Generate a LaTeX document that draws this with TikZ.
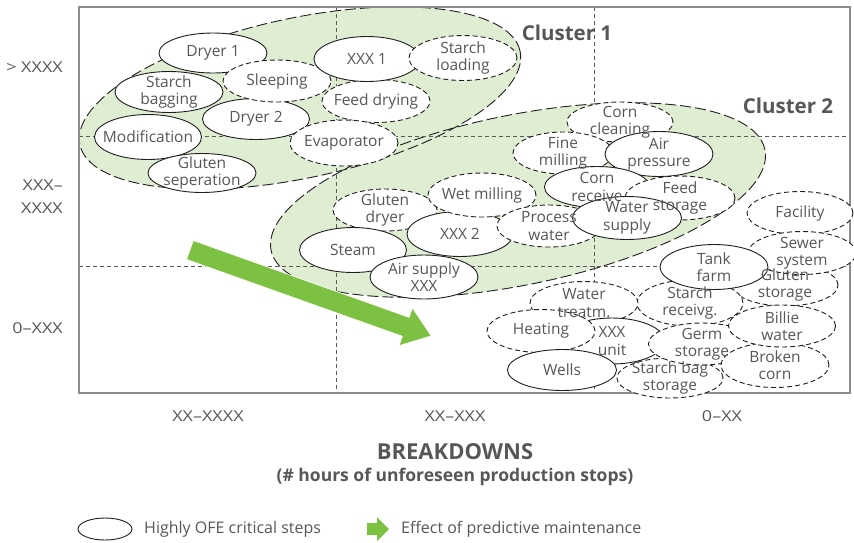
\documentclass[tikz,border=0pt]{standalone}
\usepackage{fontspec}
\setmainfont{Open Sans}
\newfontfamily\widefont{Open Sans}[FakeStretch=1.2]
\usetikzlibrary{shapes.geometric}

\definecolor{clusterfill}{HTML}{DFEDD2}
\definecolor{arrowgreen}{HTML}{7DC142}
\definecolor{textgray}{HTML}{575757}
\definecolor{framegray}{HTML}{8C8C8C}
\definecolor{gridgray}{HTML}{5A5A5A}

\tikzset{
  stepell/.style={ellipse, draw=black!88, line width=0.9pt, fill=white, inner sep=0pt},
  solidell/.style={stepell},
  dashell/.style={stepell, dash pattern=on 5pt off 3pt},
  lbl/.style={font=\fontsize{15.5}{17.5}\selectfont, text=textgray, align=center, inner sep=0pt},
  leglbl/.style={font=\fontsize{16}{18}\selectfont, text=textgray, inner sep=0pt},
  axislbl/.style={font=\widefont\fontsize{15}{23}\selectfont, text=textgray, align=right, inner sep=0pt},
  ticklbl/.style={font=\widefont\fontsize{15}{18}\selectfont, text=textgray, inner sep=0pt},
  clusterlbl/.style={font=\bfseries\fontsize{20.5}{24}\selectfont, text=textgray, inner sep=0pt},
  clusterline/.style={draw=black!88, line width=0.9pt, dash pattern=on 11pt off 4pt},
  gridline/.style={draw=gridgray, line width=0.8pt, dash pattern=on 4pt off 3pt},
}

\begin{document}
\begin{tikzpicture}[x=1pt, y=-1pt]
\useasboundingbox (0,0) rectangle (854,542);

% cluster areas
\fill[clusterfill, rotate around={12:(300,98)}] (300,98) ellipse [x radius=225pt, y radius=80pt];
\fill[clusterfill, rotate around={11.5:(518,200)}] (518,200) ellipse [x radius=252pt, y radius=85pt];
\path[clusterline, rotate around={12:(300,98)}] (300,98) ellipse [x radius=225pt, y radius=80pt];
\path[clusterline, rotate around={11.5:(518,200)}] (518,200) ellipse [x radius=252pt, y radius=85pt];

% grid
\path[gridline] (336,7) -- (336,393);
\path[gridline] (594,7) -- (594,393);
\path[gridline] (79,136) -- (850,136);
\path[gridline] (79,266) -- (850,266);

% frame
\draw[framegray, line width=1.2pt] (79,7) rectangle (850,393);

% trend arrow
\begin{scope}[shift={(190,250)}, rotate=-19.6]
  \fill[arrowgreen, draw=white, line width=0.6pt] (0,-10) -- (229,-10) -- (229,-20) -- (256,0)
    -- (229,20) -- (229,10) -- (0,10) -- cycle;
\end{scope}

% cluster 1 steps
\node[solidell, minimum width=108pt, minimum height=41pt] (starchbag) at (169,92) {};
\node[solidell, minimum width=108pt, minimum height=40pt] (dryer1) at (213,53) {};
\node[solidell, minimum width=107pt, minimum height=41pt] (dryer2) at (256,119) {};
\node[dashell, minimum width=108pt, minimum height=42pt] (sleeping) at (277,81) {};
\node[solidell, minimum width=107pt, minimum height=45pt] (modif) at (148,137) {};
\node[solidell, minimum width=108pt, minimum height=39pt] (glutensep) at (202,173) {};
\node[dashell, minimum width=108pt, minimum height=43pt] (feeddry) at (376,101) {};
\node[solidell, minimum width=106pt, minimum height=45pt] (xxx1) at (367,59) {};
\node[dashell, minimum width=108pt, minimum height=45pt] (starchload) at (463,58) {};
\node[dashell, minimum width=108pt, minimum height=46pt] (evap) at (344,143) {};

% cluster 2 steps
\node[dashell, minimum width=104pt, minimum height=42pt] (glutendry) at (385,210) {};
\node[solidell, minimum width=106pt, minimum height=45pt] (xxx2) at (460,234) {};
\node[dashell, minimum width=108pt, minimum height=44pt] (wetmill) at (482,195) {};
\node[solidell, minimum width=107pt, minimum height=45pt] (steam) at (353,250) {};
\node[solidell, minimum width=108pt, minimum height=44pt] (airsupply) at (424,277) {};
\node[dashell, minimum width=104pt, minimum height=42pt] (procwater) at (549,226) {};
\node[dashell, minimum width=106pt, minimum height=40pt] (corncl) at (620,122) {};
\node[dashell, minimum width=100pt, minimum height=42pt] (finemill) at (563,153) {};
\node[solidell, minimum width=108pt, minimum height=45pt] (airpress) at (659,154) {};
\node[solidell, minimum width=105pt, minimum height=41pt] (cornrec) at (597,187) {};
\node[dashell, minimum width=110pt, minimum height=44pt] (feedstor) at (680,198) {};
\node[solidell, minimum width=109pt, minimum height=43pt] (watersup) at (627,218) {};

% remaining steps
\node[dashell, minimum width=106pt, minimum height=43pt] (facility) at (800,213) {};
\node[dashell, minimum width=106pt, minimum height=42pt] (glutenstor) at (785,285) {};
\node[dashell, minimum width=108pt, minimum height=43pt] (sewer) at (802,253) {};
\node[dashell, minimum width=106pt, minimum height=46pt] (starchrec) at (690,303) {};
\node[solidell, minimum width=108pt, minimum height=45pt] (tankfarm) at (714,267) {};
\node[dashell, minimum width=108pt, minimum height=43pt] (watertreat) at (584,303) {};
\node[solidell, minimum width=105pt, minimum height=46pt] (xxxunit) at (612,341) {};
\node[dashell, minimum width=108pt, minimum height=43pt] (heating) at (541,331) {};
\node[solidell, minimum width=109pt, minimum height=41pt] (wells) at (562,370) {};
\node[dashell, minimum width=106pt, minimum height=40pt] (starchbagst) at (670,378) {};
\node[dashell, minimum width=107pt, minimum height=42pt] (germ) at (702,344) {};
\node[dashell, minimum width=108pt, minimum height=45pt] (brokencorn) at (775,365) {};
\node[dashell, minimum width=107pt, minimum height=42pt] (billie) at (782,326) {};

% step names
\node[lbl] (starchbag-t) at (starchbag) {Starch\\bagging};
\node[lbl] (dryer1-t) at (dryer1) {Dryer 1};
\node[lbl] (dryer2-t) at (dryer2) {Dryer 2};
\node[lbl] (sleeping-t) at (sleeping) {Sleeping};
\node[lbl] (modif-t) at (modif) {Modification};
\node[lbl] (glutensep-t) at (glutensep) {Gluten\\seperation};
\node[lbl] (feeddry-t) at (feeddry) {Feed drying};
\node[lbl] (xxx1-t) at (xxx1) {XXX 1};
\node[lbl] (starchload-t) at (starchload) {Starch\\loading};
\node[lbl] (evap-t) at (evap) {Evaporator};
\node[lbl] (glutendry-t) at (glutendry) {Gluten\\dryer};
\node[lbl] (xxx2-t) at (xxx2) {XXX 2};
\node[lbl] (wetmill-t) at (wetmill) {Wet milling};
\node[lbl] (steam-t) at (steam) {Steam};
\node[lbl] (airsupply-t) at (airsupply) {Air supply\\XXX};
\node[lbl] (procwater-t) at (procwater) {Process\\water};
\node[lbl] (corncl-t) at (corncl) {Corn\\cleaning};
\node[lbl] (finemill-t) at (finemill) {Fine\\milling};
\node[lbl] (airpress-t) at (airpress) {Air\\pressure};
\node[lbl] (cornrec-t) at (cornrec) {Corn\\receive};
\node[lbl] (feedstor-t) at (feedstor) {Feed\\storage};
\node[lbl] (watersup-t) at (watersup) {Water\\supply};
\node[lbl] (facility-t) at (facility) {Facility};
\node[lbl] (glutenstor-t) at (glutenstor) {Gluten\\storage};
\node[lbl] (sewer-t) at (sewer) {Sewer\\system};
\node[lbl] (starchrec-t) at (starchrec) {Starch\\receivg.};
\node[lbl] (tankfarm-t) at (tankfarm) {Tank\\farm};
\node[lbl] (watertreat-t) at (watertreat) {Water\\treatm.};
\node[lbl] (xxxunit-t) at (xxxunit) {XXX\\unit};
\node[lbl] (heating-t) at (heating) {Heating};
\node[lbl] (wells-t) at (wells) {Wells};
\node[lbl] (starchbagst-t) at (starchbagst) {Starch bag\\storage};
\node[lbl] (germ-t) at (germ) {Germ\\storage};
\node[lbl] (brokencorn-t) at (brokencorn) {Broken\\corn};
\node[lbl] (billie-t) at (billie) {Billie\\water};

% cluster names
\node[clusterlbl] (c1) at (567,33) {Cluster 1};
\node[clusterlbl] (c2) at (788,106) {Cluster 2};

% axis values
\node[axislbl, anchor=east] (y1) at (63,67) {> XXXX};
\node[axislbl, anchor=east] (y2) at (63,197) {XXX–\\XXXX};
\node[axislbl, anchor=east] (y3) at (63,328) {0–XXX};
\node[ticklbl] (x1) at (208,416) {XX–XXXX};
\node[ticklbl] (x2) at (455,416) {XX–XXX};
\node[ticklbl] (x3) at (722,416) {0–XX};

% axis title
\node[font=\bfseries\fontsize{22}{26}\selectfont, text=textgray, inner sep=0pt] (xt) at (455,452) {BREAKDOWNS};
\node[font=\bfseries\fontsize{17.5}{20}\selectfont, text=textgray, inner sep=0pt] (xs) at (455,477) {(\# hours of unforeseen production stops)};

% legend
\node[solidell, minimum width=54pt, minimum height=22pt] (legell) at (105,529) {};
\node[leglbl, anchor=west] (legell-t) at (144,529) {Highly OFE critical steps};
\fill[arrowgreen] (367,523) -- (377,523) -- (377,517) -- (389,529) -- (377,541) -- (377,535) -- (367,535) -- cycle;
\node[leglbl, anchor=west] (legarrow-t) at (401,529) {Effect of predictive maintenance};
\end{tikzpicture}
\end{document}
